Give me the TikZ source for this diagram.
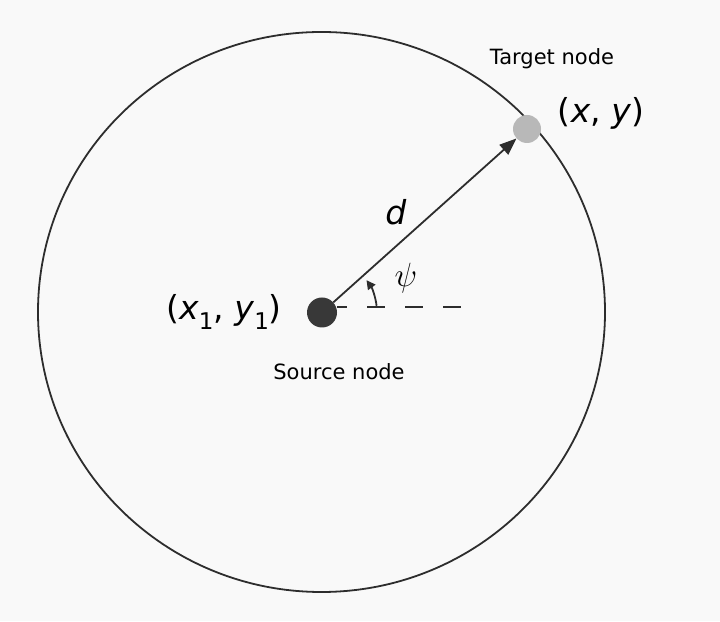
\documentclass[tikz,border=0pt]{standalone}
\usepackage{graphicx}
\usepackage{fontspec}
\setmainfont{DejaVu Sans}
\usetikzlibrary{arrows.meta,calc}
\definecolor{paper}{RGB}{249,249,249}
\definecolor{ink}{RGB}{45,45,45}
\newcommand{\sub}[1]{\raisebox{-0.28em}{\fontsize{23}{23}\selectfont #1}}
\begin{document}
\begin{tikzpicture}[x=1pt,y=1pt,
  lbl/.style={inner sep=0pt, font=\fontsize{21}{21}\selectfont},
  coord/.style={inner sep=0pt, font=\fontsize{33}{33}\selectfont},
  dot/.style={circle, inner sep=0pt, draw=none}]
\fill[paper] (0,0) rectangle (720,621);
\useasboundingbox (0,0) rectangle (720,621);
% range circle
\draw[ink, line width=1.8pt] (321.5,309) ellipse [x radius=283.5, y radius=280];
% nodes
\node[dot, minimum size=30pt, fill=black!78] (src) at (322,308.5) {};
\node[dot, minimum size=28pt, fill=black!28] (tgt) at (527,492) {};
% labels
\node[lbl] (tl) at (552,562) {Target node};
\node[lbl] (sl) at (339,249) {Source node};
\node[coord] (xy) at (601,508) {(\textit{x}, \textit{y})};
\node[coord] (x1y1) at (224,309) {(\textit{x}\sub{1}, \textit{y}\sub{1})};
\node[coord] (dl) at (396,409) {\textit{d}};
\node[inner sep=0pt, font=\fontsize{24}{24}\selectfont] (psi) at (406,343) {\scalebox{1.35}{$\psi$}};
% distance arrow
\draw[ink, line width=1.8pt, -{Triangle[length=17pt,width=13pt]}] (src) -- (tgt);
% reference direction
\coordinate (dashend) at (463,314);
\draw[ink, line width=2pt, dash pattern=on 18pt off 20pt, dash phase=8pt] (src.east |- dashend) -- (dashend);
% angle
\draw[ink, line width=1.8pt, -{Triangle[length=9pt,width=9pt]}] ($(src)+(7:55)$) arc[start angle=7, end angle=36, radius=55];
\end{tikzpicture}
\end{document}
